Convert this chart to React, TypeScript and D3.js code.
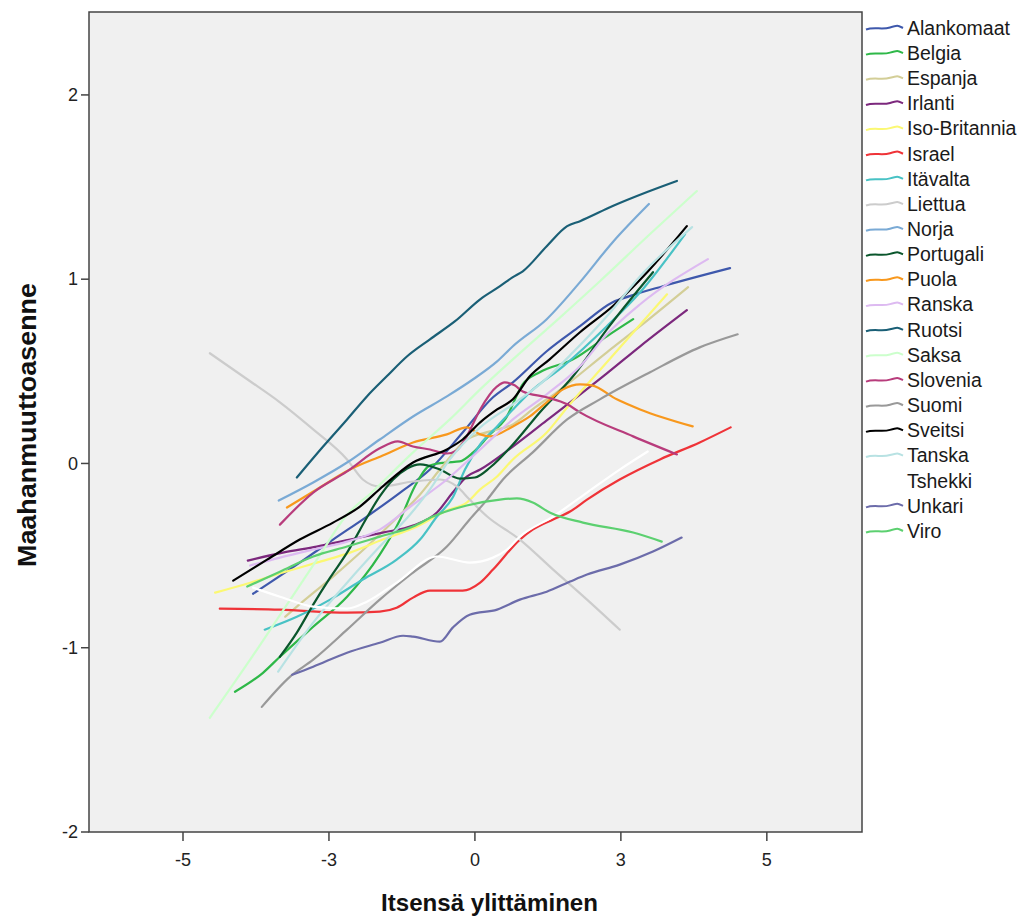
import React from 'react';
import * as d3 from 'd3';

type Pt = [number, number];

const alankomaat: Pt[] = [[-3.80,-0.707],[-3.00,-0.538],[-2.43,-0.413],[-1.85,-0.288],[-1.28,-0.158],[-0.77,-0.033],[-0.21,0.168],[0.31,0.359],[0.65,0.440],[1.23,0.609],[1.80,0.745],[2.36,0.875],[2.65,0.908],[3.22,0.962],[4.37,1.060]];
const belgia: Pt[] = [[-4.11,-1.239],[-3.63,-1.136],[-3.34,-1.049],[-2.77,-0.886],[-2.19,-0.723],[-1.63,-0.495],[-1.28,-0.304],[-1.03,-0.125],[-0.77,-0.011],[-0.51,0.005],[-0.26,0.011],[-0.03,0.060],[0.26,0.158],[0.52,0.240],[0.82,0.430],[1.11,0.495],[1.68,0.565],[2.26,0.690],[2.71,0.783]];
const espanja: Pt[] = [[-3.25,-0.832],[-3.05,-0.777],[-2.43,-0.614],[-1.85,-0.451],[-1.28,-0.277],[-0.94,-0.168],[-0.60,-0.033],[-0.14,0.130],[0.26,0.174],[0.65,0.212],[1.03,0.304],[1.40,0.386],[2.26,0.603],[2.83,0.745],[3.65,0.957]];
const irlanti: Pt[] = [[-3.89,-0.527],[-3.29,-0.484],[-2.71,-0.451],[-2.14,-0.413],[-1.58,-0.375],[-1.06,-0.337],[-0.65,-0.266],[-0.38,-0.158],[-0.14,-0.071],[0.09,-0.033],[0.65,0.092],[1.23,0.234],[1.63,0.332],[2.26,0.489],[2.83,0.636],[3.63,0.832]];
const isoBritannia: Pt[] = [[-4.45,-0.701],[-3.85,-0.647],[-3.29,-0.592],[-2.71,-0.538],[-2.14,-0.484],[-1.58,-0.413],[-0.99,-0.342],[-0.48,-0.255],[-0.14,-0.212],[0.09,-0.141],[0.38,-0.071],[0.65,0.022],[1.23,0.168],[1.58,0.304],[2.26,0.549],[3.29,0.918]];
const israel: Pt[] = [[-4.37,-0.788],[-3.34,-0.793],[-2.19,-0.810],[-1.63,-0.804],[-1.34,-0.783],[-1.06,-0.728],[-0.77,-0.690],[-0.48,-0.690],[-0.21,-0.690],[0.09,-0.647],[0.31,-0.576],[0.77,-0.413],[0.99,-0.359],[1.34,-0.304],[1.63,-0.261],[1.92,-0.196],[2.48,-0.087],[3.17,0.022],[3.85,0.114],[4.38,0.196]];
const itavalta: Pt[] = [[-3.60,-0.902],[-3.05,-0.832],[-2.48,-0.739],[-1.92,-0.630],[-1.34,-0.522],[-0.94,-0.413],[-0.65,-0.288],[-0.38,-0.185],[-0.17,-0.033],[0.09,0.103],[0.38,0.201],[0.65,0.293],[0.94,0.386],[1.51,0.527],[2.26,0.745],[2.83,0.929],[3.60,1.245]];
const liettua: Pt[] = [[-4.54,0.598],[-3.90,0.457],[-3.34,0.332],[-2.77,0.185],[-2.19,0.022],[-1.92,-0.087],[-1.63,-0.125],[-1.06,-0.098],[-0.60,-0.087],[-0.31,-0.125],[-0.09,-0.196],[0.21,-0.288],[0.77,-0.413],[1.34,-0.576],[1.92,-0.739],[2.48,-0.902]];
const norja: Pt[] = [[-3.36,-0.201],[-2.77,-0.103],[-2.19,0.005],[-1.63,0.130],[-1.06,0.255],[-0.48,0.364],[-0.03,0.457],[0.38,0.554],[0.65,0.636],[1.23,0.783],[1.80,0.984],[2.36,1.201],[2.98,1.408]];
const portugali: Pt[] = [[-3.34,-1.049],[-3.05,-0.918],[-2.77,-0.766],[-2.48,-0.620],[-2.19,-0.484],[-1.85,-0.293],[-1.63,-0.179],[-1.40,-0.087],[-1.16,-0.027],[-0.94,-0.005],[-0.60,-0.033],[-0.26,-0.082],[0.00,-0.076],[0.26,-0.022],[0.65,0.103],[1.11,0.277],[1.68,0.473],[2.26,0.728],[3.05,1.038]];
const puola: Pt[] = [[-3.22,-0.239],[-2.71,-0.141],[-2.14,-0.033],[-1.58,0.043],[-1.06,0.114],[-0.48,0.158],[-0.14,0.196],[0.09,0.158],[0.26,0.147],[0.65,0.201],[0.94,0.255],[1.23,0.332],[1.51,0.402],[1.80,0.429],[2.00,0.424],[2.43,0.348],[2.83,0.293],[3.73,0.201]];
const ranska: Pt[] = [[-3.85,-0.554],[-3.34,-0.511],[-2.77,-0.467],[-2.19,-0.424],[-1.63,-0.359],[-1.06,-0.223],[-0.48,-0.087],[0.09,0.076],[0.65,0.239],[1.23,0.375],[1.80,0.527],[2.26,0.701],[2.83,0.864],[3.99,1.109]];
const ruotsi: Pt[] = [[-3.05,-0.076],[-2.60,0.092],[-2.19,0.239],[-1.85,0.364],[-1.51,0.473],[-1.16,0.582],[-0.77,0.674],[-0.34,0.772],[0.09,0.891],[0.43,0.962],[0.65,1.011],[0.82,1.043],[1.23,1.179],[1.58,1.288],[1.80,1.315],[2.36,1.397],[2.95,1.473],[3.46,1.533]];
const saksa: Pt[] = [[-4.54,-1.380],[-3.85,-1.065],[-3.22,-0.766],[-2.65,-0.495],[-2.23,-0.293],[-1.75,-0.152],[-1.06,0.060],[-0.43,0.239],[0.09,0.402],[0.65,0.565],[1.46,0.793],[2.14,0.989],[3.00,1.245],[3.80,1.478]];
const slovenia: Pt[] = [[-3.34,-0.332],[-2.77,-0.158],[-2.19,-0.043],[-1.63,0.082],[-1.32,0.120],[-1.06,0.092],[-0.77,0.076],[-0.48,0.054],[-0.31,0.071],[-0.14,0.147],[0.09,0.293],[0.38,0.418],[0.51,0.440],[0.68,0.424],[0.82,0.391],[1.23,0.359],[1.58,0.321],[1.80,0.277],[2.71,0.147],[3.46,0.049]];
const suomi: Pt[] = [[-3.65,-1.321],[-3.17,-1.158],[-2.77,-1.065],[-2.19,-0.902],[-1.63,-0.739],[-1.06,-0.592],[-0.48,-0.451],[-0.09,-0.304],[0.21,-0.196],[0.48,-0.087],[0.99,0.060],[1.58,0.239],[2.14,0.348],[3.00,0.495],[3.85,0.630],[4.50,0.701]];
const sveitsi: Pt[] = [[-4.14,-0.636],[-3.56,-0.522],[-3.00,-0.413],[-2.43,-0.321],[-1.97,-0.234],[-1.58,-0.125],[-1.06,0.005],[-0.48,0.076],[-0.21,0.130],[0.09,0.223],[0.38,0.293],[0.65,0.348],[0.94,0.473],[1.28,0.565],[1.80,0.712],[2.36,0.853],[2.95,1.038],[3.63,1.288]];
const tanska: Pt[] = [[-3.37,-1.130],[-2.77,-0.864],[-2.19,-0.647],[-1.63,-0.451],[-1.11,-0.277],[-0.77,-0.141],[-0.43,0.022],[0.09,0.196],[0.65,0.321],[1.11,0.429],[1.68,0.603],[2.26,0.799],[2.83,1.016],[3.72,1.283]];
const tshekki: Pt[] = [[-3.80,-0.674],[-3.34,-0.723],[-2.77,-0.777],[-2.19,-0.788],[-1.85,-0.750],[-1.34,-0.647],[-0.65,-0.505],[-0.09,-0.538],[0.31,-0.511],[0.55,-0.467],[0.77,-0.397],[1.34,-0.288],[1.92,-0.158],[2.48,-0.033],[2.96,0.065]];
const unkari: Pt[] = [[-3.13,-1.147],[-2.77,-1.103],[-2.19,-1.027],[-1.63,-0.973],[-1.23,-0.935],[-1.06,-0.940],[-0.60,-0.967],[-0.38,-0.891],[-0.09,-0.821],[0.38,-0.793],[0.77,-0.739],[1.23,-0.696],[1.63,-0.641],[1.92,-0.603],[2.48,-0.549],[3.05,-0.478],[3.54,-0.402]];
const viro: Pt[] = [[-3.90,-0.668],[-3.34,-0.587],[-2.77,-0.505],[-2.19,-0.451],[-1.63,-0.397],[-1.06,-0.342],[-0.72,-0.288],[-0.14,-0.228],[0.43,-0.196],[0.72,-0.190],[0.99,-0.212],[1.28,-0.266],[1.85,-0.321],[2.71,-0.375],[3.20,-0.424]];

const countryNames = ['Alankomaat','Belgia','Espanja','Irlanti','Iso-Britannia','Israel','Itävalta','Liettua','Norja','Portugali','Puola','Ranska','Ruotsi','Saksa','Slovenia','Suomi','Sveitsi','Tanska','Tshekki','Unkari','Viro'];
const countryValues: Pt[][] = [alankomaat,belgia,espanja,irlanti,isoBritannia,israel,itavalta,liettua,norja,portugali,puola,ranska,ruotsi,saksa,slovenia,suomi,sveitsi,tanska,tshekki,unkari,viro];
const countryColors = ['#3E58AC','#2EB848','#D3CE97','#7C287D','#FBF873','#EF3338','#48C2C5','#CCCCCC','#7AAAD5','#0A562C','#F8981D','#DDBAF1','#1A5F76','#CCFFCC','#B83C7C','#999999','#000000','#B8E2E3','#FFFFFF','#6C6CAA','#5CD070'];

const xTickValues = [-5, -2.5, 0, 2.5, 5];
const xTickLabels = ['-5', '-3', '0', '3', '5'];
const yTickValues = [-2, -1, 0, 1, 2];
const yTickLabels = ['-2', '-1', '0', '1', '2'];

const W = 1024, H = 921;
const PL = 89, PR = 862, PT = 12, PB = 832;

export default function App() {
  const x = d3.scaleLinear().domain([-6.61, 6.63]).range([PL, PR]);
  const y = d3.scaleLinear().domain([-2, 2.45]).range([PB, PT]);
  const line = d3.line<Pt>().x(d => x(d[0])).y(d => y(d[1])).curve(d3.curveMonotoneX);
  const font = 'Arial, "Liberation Sans", sans-serif';
  const axisColor = '#444';
  return (
    <svg width={W} height={H} style={{ position: 'absolute', left: 0, top: 0, background: '#fff' }}>
      <rect x={PL} y={PT} width={PR - PL} height={PB - PT} fill="#F0F0F0" />
      <g>
        {countryValues.map((vals, i) => (
          <path key={countryNames[i]} d={line(vals) || ''} fill="none" stroke={countryColors[i]} strokeWidth={2.2} strokeLinejoin="round" strokeLinecap="round" />
        ))}
      </g>
      <rect x={PL} y={PT} width={PR - PL} height={PB - PT} fill="none" stroke={axisColor} strokeWidth={1.5} />
      {yTickValues.map((v, i) => (
        <g key={'y' + v}>
          <line x1={PL - 8} x2={PL} y1={y(v)} y2={y(v)} stroke={axisColor} strokeWidth={1.5} />
          <text x={PL - 11} y={y(v)} dy="0.35em" textAnchor="end" fontFamily={font} fontSize={18} fill="#222">{yTickLabels[i]}</text>
        </g>
      ))}
      {xTickValues.map((v, i) => (
        <g key={'x' + v}>
          <line x1={x(v)} x2={x(v)} y1={PB} y2={PB + 9} stroke={axisColor} strokeWidth={1.5} />
          <text x={x(v)} y={PB + 34} textAnchor="middle" fontFamily={font} fontSize={18} fill="#222">{xTickLabels[i]}</text>
        </g>
      ))}
      <text x={(PL + PR) / 2 + 14} y={911} textAnchor="middle" fontFamily={font} fontWeight="bold" fontSize={24} textLength={217} lengthAdjust="spacingAndGlyphs" fill="#111">Itsensä ylittäminen</text>
      <text transform={`translate(36, 425) rotate(-90)`} textAnchor="middle" fontFamily={font} fontWeight="bold" fontSize={26} textLength={284} lengthAdjust="spacingAndGlyphs" fill="#111">Maahanmuuttoasenne</text>
      <g>
        {countryNames.map((name, i) => {
          const cy = 28 + i * 25.15;
          return (
            <g key={'leg' + name}>
              <path d={`M866,${cy + 1.5} C874,${cy - 1.5} 882,${cy + 2} 890,${cy - 0.5} S898,${cy - 2.5} 903,${cy}`} fill="none" stroke={countryColors[i]} strokeWidth={2} />
              <text x={907} y={cy} dy="0.35em" fontFamily={font} fontSize={19.5} fill="#1a1a1a">{name}</text>
            </g>
          );
        })}
      </g>
    </svg>
  );
}
